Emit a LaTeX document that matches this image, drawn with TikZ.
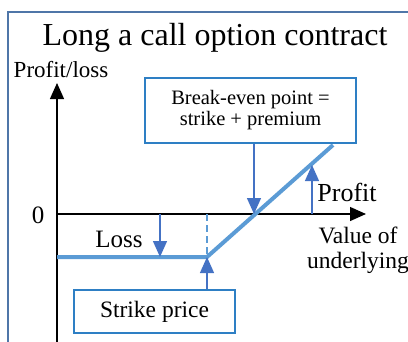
\documentclass[tikz,border=0pt]{standalone}
\usepackage{fontspec}
\setmainfont{Liberation Serif}
\usetikzlibrary{arrows.meta}
\definecolor{framecol}{HTML}{4F76A8}
\definecolor{boxcol}{HTML}{2E7FC4}
\definecolor{paycol}{HTML}{5B9BD5}
\definecolor{arrcol}{HTML}{4472C4}
\begin{document}
\begin{tikzpicture}[x=1pt,y=-1pt,
    lbl/.style={font=\fontsize{25}{25}\selectfont,anchor=base,inner sep=0pt},
    infobox/.style={draw=boxcol,line width=1.8pt,align=center},
    axis/.style={line width=1.3pt,-{Triangle[width=14pt,length=16pt]}},
    pointer/.style={arrcol,line width=1.3pt,-{Triangle[width=14pt,length=16pt]}},
    payoff/.style={paycol,line width=4pt}]
    \useasboundingbox (0,0) rectangle (408,341);
    \draw [framecol,line width=2pt] (8,345) |- (412,12);
    % points of the payoff
    \coordinate (o) at (57,214);
    \coordinate (ytop) at (57,83);
    \coordinate (ybot) at (57,345);
    \coordinate (xend) at (366,214);
    \coordinate (k) at (207,257);
    \coordinate (be) at (254,214);
    \coordinate (e) at (333,145);
    \coordinate (losstop) at (160,214);
    \coordinate (lossbot) at (160,257);
    \coordinate (profbot) at (312,214);
    \coordinate (proftop) at (312,165);
    \node [lbl,font=\fontsize{32}{32}\selectfont] (title) at (215,45) {Long a call option contract};
    \node [lbl,font=\fontsize{23}{23}\selectfont] (ylabel) at (61,77) {Profit/loss};
    \node [lbl] (zero) at (38,223) {0};
    \node [lbl] (loss) at (119,247) {Loss};
    \node [lbl,font=\fontsize{26}{26}\selectfont] (profit) at (347,201) {Profit};
    \node [lbl,font=\fontsize{23.5}{25}\selectfont,align=center] (value) at (358,268) {Value of\\underlying};
    \draw [axis] (ybot) -- (ytop);
    \draw [axis] (o) -- (xend);
    \draw [paycol,line width=2.2pt,dash pattern=on 7pt off 4pt] (o -| k) -- (k);
    \draw [payoff] (o |- k) -- (k) -- (e);
    \node [infobox,font=\fontsize{20.5}{21}\selectfont,minimum width=211pt,minimum height=65pt] (bebox) at (250.5,110.5) {Break-even point =\\strike + premium};
    \node [infobox,font=\fontsize{23.5}{24}\selectfont,minimum width=161pt,minimum height=43pt] (strikebox) at (154.5,311.5) {Strike price};
    \draw [pointer] (bebox.south -| be) -- (be);
    \draw [pointer] (strikebox.north -| k) -- (k);
    \draw [pointer] (losstop) -- (lossbot);
    \draw [pointer] (profbot) -- (proftop);
\end{tikzpicture}
\end{document}
